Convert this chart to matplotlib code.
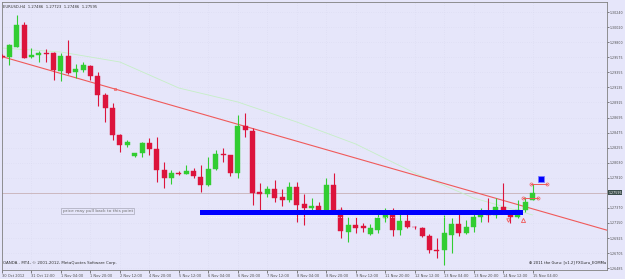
import matplotlib.pyplot as plt
from matplotlib.patches import Rectangle

# EURUSD H4 candles (bar 0 = 30 Oct 2012 20:00)
opens = [1.29596, 1.29581, 1.29727, 1.30050, 1.29581, 1.29610, 1.29640, 1.29640, 1.29376, 1.29596,
         1.29361, 1.29391, 1.29449, 1.29303, 1.29024, 1.28834, 1.28439, 1.28292, 1.28131, 1.28175,
         1.28321, 1.28233, 1.27926, 1.27809, 1.27882, 1.27874, 1.27911, 1.27823, 1.27706, 1.27940,
         1.28160, 1.28146, 1.27882, 1.28570, 1.28497, 1.27604, 1.27574, 1.27648, 1.27530, 1.27486,
         1.27677, 1.27428, 1.27369, 1.27399, 1.27340, 1.27706, 1.27340, 1.27018, 1.27120, 1.27106,
         1.26988, 1.27047, 1.27223, 1.27281, 1.27047, 1.27179, 1.27091, 1.27076, 1.26959, 1.26754,
         1.26754, 1.26974, 1.27135, 1.27003, 1.27091, 1.27237, 1.27296, 1.27267, 1.27384, 1.27311,
         1.27237, 1.27340, 1.27486]
highs = [1.29625, 1.29771, 1.30196, 1.30094, 1.29713, 1.29669, 1.29698, 1.29654, 1.29640, 1.29830,
         1.29478, 1.29508, 1.29464, 1.29361, 1.29054, 1.28907, 1.28453, 1.28365, 1.28182, 1.28336,
         1.28395, 1.28409, 1.28043, 1.27926, 1.27911, 1.27999, 1.27955, 1.27999, 1.28116, 1.28219,
         1.28248, 1.28146, 1.28731, 1.28761, 1.28541, 1.27735, 1.27691, 1.27779, 1.27648, 1.27750,
         1.27750, 1.27574, 1.27516, 1.27457, 1.27809, 1.27882, 1.27384, 1.27237, 1.27237, 1.27150,
         1.27135, 1.27340, 1.27369, 1.27369, 1.27281, 1.27325, 1.27106, 1.27091, 1.26988, 1.26930,
         1.27267, 1.27223, 1.27296, 1.27193, 1.27296, 1.27369, 1.27516, 1.27516, 1.27735, 1.27340,
         1.27486, 1.27530, 1.27723]
lows = [1.29566, 1.29464, 1.29727, 1.29566, 1.29566, 1.29508, 1.29508, 1.29244, 1.29229, 1.29332,
        1.29273, 1.29361, 1.29244, 1.28863, 1.28629, 1.28365, 1.28189, 1.28263, 1.28116, 1.28116,
        1.28146, 1.27750, 1.27662, 1.27721, 1.27853, 1.27867, 1.27809, 1.27604, 1.27691, 1.27926,
        1.28043, 1.27838, 1.27809, 1.28409, 1.27413, 1.27340, 1.27530, 1.27457, 1.27399, 1.27457,
        1.27164, 1.27120, 1.27311, 1.27311, 1.27311, 1.27296, 1.26930, 1.26871, 1.27003, 1.27018,
        1.26974, 1.27003, 1.27164, 1.26959, 1.26974, 1.27076, 1.27062, 1.26944, 1.26710, 1.26637,
        1.26534, 1.26710, 1.26959, 1.26988, 1.27018, 1.27164, 1.27164, 1.27223, 1.27311, 1.27150,
        1.27223, 1.27311, 1.27486]
closes = [1.29581, 1.29757, 1.30050, 1.29566, 1.29610, 1.29640, 1.29632, 1.29391, 1.29596, 1.29347,
          1.29405, 1.29464, 1.29303, 1.29024, 1.28834, 1.28439, 1.28292, 1.28336, 1.28175, 1.28321,
          1.28233, 1.27926, 1.27809, 1.27882, 1.27874, 1.27911, 1.27838, 1.27706, 1.27940, 1.28160,
          1.28146, 1.27882, 1.28570, 1.28512, 1.27589, 1.27574, 1.27648, 1.27516, 1.27486, 1.27677,
          1.27413, 1.27369, 1.27399, 1.27340, 1.27706, 1.27340, 1.27032, 1.27120, 1.27076, 1.27076,
          1.27076, 1.27223, 1.27267, 1.27047, 1.27179, 1.27091, 1.27084, 1.26959, 1.26754, 1.26739,
          1.27003, 1.27135, 1.27003, 1.27091, 1.27237, 1.27296, 1.27267, 1.27384, 1.27311, 1.27237,
          1.27340, 1.27457, 1.27595]

date_bars = [0, 4, 8, 12, 16, 20, 24, 28, 32, 36, 40, 44, 48, 52, 56, 60, 64, 68, 72]
date_labels = ["30 Oct 2012", "31 Oct 12:00", "1 Nov 04:00", "1 Nov 20:00", "2 Nov 12:00",
               "4 Nov 20:00", "5 Nov 12:00", "6 Nov 04:00", "6 Nov 20:00", "7 Nov 12:00",
               "8 Nov 04:00", "8 Nov 20:00", "9 Nov 12:00", "11 Nov 20:00", "12 Nov 12:00",
               "13 Nov 04:00", "13 Nov 20:00", "14 Nov 12:00", "15 Nov 04:00"]
price_ticks = [1.30240, 1.30020, 1.29800, 1.29575, 1.29355, 1.29135, 1.28915, 1.28695, 1.28475,
               1.28255, 1.28030, 1.27810, 1.27370, 1.27150, 1.26925, 1.26705, 1.26485]
bid = 1.27595

# moving average (faint green) sampled by eye
ma_bars = [0, 8, 16, 24, 32, 40, 48, 56, 64, 72]
ma_vals = [1.29713, 1.29654, 1.29508, 1.29127, 1.28922, 1.28629, 1.28307, 1.27882, 1.27516, 1.27267]

# trendline anchors and the blue support zone
trend_bars = [0, 72]
trend_prices = [1.29587, 1.27357]
zone_bars = [26.9, 70.7]
zone_prices = [1.27272, 1.27343]

bg = "#e6e6fa"
bull = "#32cd32"
bear = "#dc143c"

fig = plt.figure(figsize=(6.25, 2.79), dpi=100, facecolor=bg)
ax = fig.add_axes([2/625, 9/279, 605/625, 268/279], facecolor=bg)
ax.set_xlim(0, 82.1)
ax.set_ylim(1.26461, 1.30387)

ax.grid(True, color="#d4d4ec", linestyle=(0, (1, 3)), linewidth=0.4)
ax.set_axisbelow(True)

# bid line
ax.axhline(bid, color="#ccb8c0", lw=0.7, zorder=1)

# moving average and trendline
ax.plot(ma_bars, ma_vals, color="#c6efc6", lw=0.6, zorder=1)
ax.axline((trend_bars[0], trend_prices[0]), (trend_bars[1], trend_prices[1]),
          color="#f05a5a", lw=0.8, zorder=2)
t15 = trend_prices[0] + (trend_prices[1] - trend_prices[0]) * 15.3 / 72
ax.plot([15.3], [t15], marker="s", ms=2, mfc="none", mec="#f05a5a", mew=0.5, zorder=2)

# candles
for i in range(len(closes)):
    o, h, l, c = opens[i], highs[i], lows[i], closes[i]
    col = bull if c > o else bear
    ax.vlines(i, l, h, color=col, lw=0.8, zorder=3)
    body = max(abs(c - o), 0.00004)
    ax.bar(i, body, bottom=min(o, c), width=0.68, color=col, edgecolor=col, lw=0.3, zorder=4)

# blue zone and dotted line under it
ax.add_patch(Rectangle((zone_bars[0], zone_prices[0]), zone_bars[1] - zone_bars[0],
                       zone_prices[1] - zone_prices[0], facecolor="#0000ff", edgecolor="none", zorder=5))
ax.plot([27.9, 61.7], [1.27238, 1.27238], color="white", lw=0.6, linestyle=(0, (1, 2)), zorder=5)

# indicator marks near the last bars
ax.plot([73.1], [1.27794], marker="s", ms=5, mfc="#0000ff", mec="#7a7aff", mew=0.6, zorder=6)
ax.plot([71.8, 73.9], [1.27721, 1.27721], color="#f05a5a", lw=0.7, marker="o", ms=2.2,
        mfc="none", mew=0.5, zorder=6)
ax.plot([70.7, 72.8], [1.27516, 1.27516], color="#f05a5a", lw=0.7, marker="o", ms=2.2,
        mfc="none", mew=0.5, zorder=6)
ax.plot([70.7], [1.27193], marker="^", ms=3, mfc="none", mec="#f05a5a", mew=0.6, zorder=6)
ax.plot([68.7], [1.27193], marker="v", ms=2.5, mfc="none", mec="#f05a5a", mew=0.6, zorder=6)

# texts
ax.text(0.002, 0.988, "EURUSD,H4  1.27486  1.27723  1.27486  1.27595", transform=ax.transAxes,
        fontsize=2.7, color="#303030", va="top", ha="left")
ax.text(0.002, 0.02, "OANDA - MT4, \u00a9 2001-2012, MetaQuotes Software Corp.", transform=ax.transAxes,
        fontsize=2.9, color="#303030", va="bottom", ha="left")
ax.text(0.998, 0.02, "\u2295 2011 the Guru: [v1.2] FXGuru_EOMMa", transform=ax.transAxes,
        fontsize=2.7, color="#202020", va="bottom", ha="right")
ax.text(13.0, 1.27325, "price may pull back to this point", fontsize=3.2, color="#707070",
        ha="center", va="center", zorder=6,
        bbox=dict(boxstyle="square,pad=0.3", fc="none", ec="#a8a8b8", lw=0.5))

# axes styling
for s in ax.spines.values():
    s.set_color("#808080")
    s.set_linewidth(0.6)
ax.yaxis.tick_right()
ax.set_yticks(price_ticks)
ax.set_yticklabels([f"{p:.5f}" for p in price_ticks])
ax.tick_params(axis="y", length=1.5, width=0.5, pad=0.6, labelsize=2.35, colors="#505050")
ax.set_xticks(date_bars)
ax.set_xticklabels(date_labels)
ax.tick_params(axis="x", length=2, width=0.5, pad=1, labelsize=2.6, colors="#505050")
for lbl in ax.get_xticklabels():
    lbl.set_ha("left")

ax.text(1.002, bid, f"{bid:.5f}", transform=ax.get_yaxis_transform(), fontsize=2.35,
        color="white", va="center", ha="left",
        bbox=dict(boxstyle="square,pad=0.2", fc="#3a4c4a", ec="none"))

fig.savefig("out.png", dpi=100, facecolor=bg)
